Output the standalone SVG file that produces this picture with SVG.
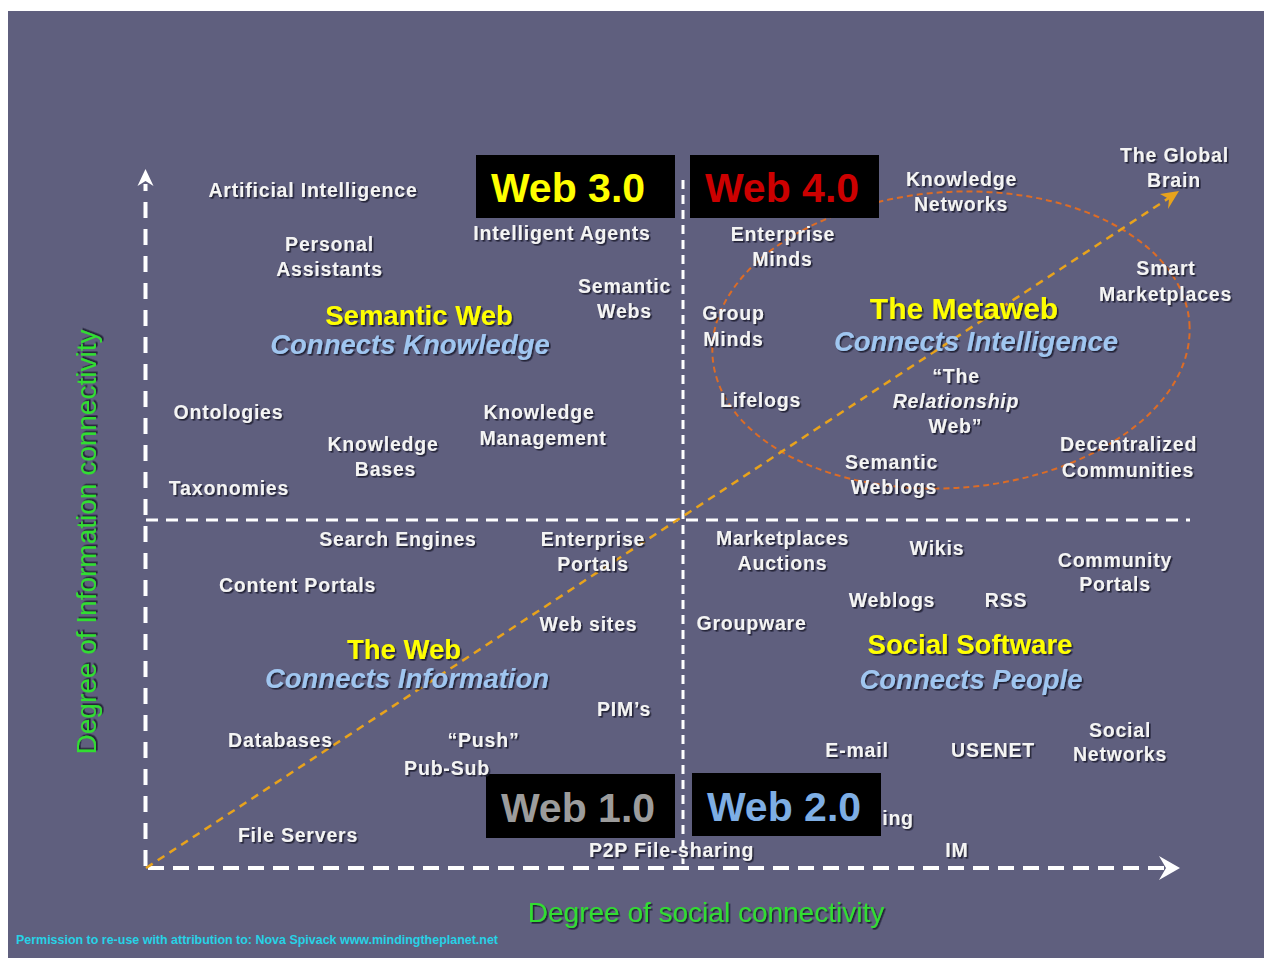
<svg xmlns="http://www.w3.org/2000/svg" width="1264" height="958" viewBox="0 0 1264 958">
<style>
.lbl{font-family:"Liberation Sans",Arial,sans-serif;font-weight:bold;font-size:19.5px;fill:#f4f4f4;text-anchor:middle;letter-spacing:0.8px;filter:url(#sh)}
.it{font-style:italic}
.ttl{font-family:"Liberation Sans",Arial,sans-serif;font-weight:bold;font-size:27.5px;fill:#ffff00;text-anchor:middle;filter:url(#sh)}
.sub{font-family:"Liberation Sans",Arial,sans-serif;font-weight:bold;font-style:italic;font-size:27.5px;fill:#a0c6f0;text-anchor:middle;filter:url(#sh)}
.box{fill:#000}
.web{font-family:"Liberation Sans",Arial,sans-serif;font-weight:bold;font-size:41px;text-anchor:middle}
.axl{font-family:"Liberation Sans",Arial,sans-serif;font-size:28px;fill:#33dd33;text-anchor:middle;filter:url(#sh)}
.ax{stroke:#fff;stroke-width:4;fill:none}
</style>
<defs>
<filter id="sh" x="-10%" y="-30%" width="120%" height="160%">
<feDropShadow dx="1.6" dy="1.6" stdDeviation="0.5" flood-color="#15152a" flood-opacity="0.85"/>
</filter>
</defs>
<rect x="0" y="0" width="1264" height="958" fill="#ffffff"/>
<rect x="8" y="11" width="1256" height="947" fill="#5f5f7e"/>

<g id="connectors">
<line class="ax" x1="145.5" y1="866" x2="145.5" y2="184" stroke-dasharray="16 11"/>
<path d="M145.5,169 L153.5,186 L145.5,181 L137.5,186 Z" fill="#fff"/>
<line class="ax" x1="148" y1="868" x2="1166" y2="868" stroke-dasharray="16 9"/>
<path d="M1180,868 L1159,880 L1166,868 L1159,856 Z" fill="#fff"/>
<line x1="146" y1="520" x2="1190" y2="520" stroke="#fff" stroke-width="3" stroke-dasharray="12 8"/>
<line x1="683" y1="180" x2="683" y2="866" stroke="#fff" stroke-width="3" stroke-dasharray="9 6"/>
<ellipse cx="951" cy="340" rx="239" ry="148" transform="rotate(-4 951 340)" fill="none" stroke="#dc6c26" stroke-width="2" stroke-dasharray="6 4"/>
<line x1="146" y1="868" x2="1172" y2="196" stroke="#e8a31c" stroke-width="2.5" stroke-dasharray="8 6"/>
<path d="M1179,191 L1168,209 L1169,199 L1160,194 Z" fill="#e8a31c"/>
</g>

<g id="web30"><rect class="box" x="476" y="155" width="199" height="63"/><text class="web" x="568" y="202" fill="#ffff00">Web 3.0</text></g>
<g id="web40"><rect class="box" x="690" y="155" width="189" height="63"/><text class="web" x="782" y="202" fill="#cc0000">Web 4.0</text></g>
<g id="ing"><text class="lbl" x="898" y="825">ing</text></g>
<g id="web10"><rect class="box" x="486" y="774" width="189" height="64"/><text class="web" x="578" y="822" fill="#9c9c9c">Web 1.0</text></g>
<g id="web20"><rect class="box" x="692" y="773" width="189" height="63"/><text class="web" x="784" y="821" fill="#7eaee4">Web 2.0</text></g>

<g id="semweb"><text class="ttl" x="419" y="325">Semantic Web</text><text class="sub" x="410" y="354">Connects Knowledge</text></g>
<g id="theweb"><text class="ttl" x="404" y="659">The Web</text><text class="sub" x="407" y="688">Connects Information</text></g>
<g id="metaweb"><text class="ttl" x="964" y="319" style="font-size:30px">The Metaweb</text><text class="sub" x="976" y="351">Connects Intelligence</text></g>
<g id="social"><text class="ttl" x="970" y="654">Social Software</text><text class="sub" x="971" y="689">Connects People</text></g>

<g id="ai"><text class="lbl" x="313" y="197">Artificial Intelligence</text></g>
<g id="pa"><text class="lbl" x="329.5" y="251">Personal</text><text class="lbl" x="329.5" y="276">Assistants</text></g>
<g id="agents"><text class="lbl" x="562" y="240">Intelligent Agents</text></g>
<g id="semwebs"><text class="lbl" x="624.5" y="293">Semantic</text><text class="lbl" x="624.5" y="318">Webs</text></g>
<g id="ontologies"><text class="lbl" x="228.5" y="419">Ontologies</text></g>
<g id="kbases"><text class="lbl" x="383" y="451">Knowledge</text><text class="lbl" x="385.5" y="476">Bases</text></g>
<g id="kmgmt"><text class="lbl" x="539" y="419">Knowledge</text><text class="lbl" x="543" y="445">Management</text></g>
<g id="taxonomies"><text class="lbl" x="229" y="495">Taxonomies</text></g>

<g id="search"><text class="lbl" x="398" y="546">Search Engines</text></g>
<g id="eportals"><text class="lbl" x="593" y="546">Enterprise</text><text class="lbl" x="593" y="571">Portals</text></g>
<g id="cportals"><text class="lbl" x="297.5" y="592">Content Portals</text></g>
<g id="websites"><text class="lbl" x="588.5" y="631">Web sites</text></g>
<g id="pims"><text class="lbl" x="624" y="716">PIM’s</text></g>
<g id="databases"><text class="lbl" x="280.5" y="747">Databases</text></g>
<g id="push"><text class="lbl" x="483.5" y="747">“Push”</text></g>
<g id="pubsub"><text class="lbl" x="447" y="775">Pub-Sub</text></g>
<g id="fileservers"><text class="lbl" x="298" y="842">File Servers</text></g>
<g id="p2p"><text class="lbl" x="671.5" y="857">P2P File-sharing</text></g>

<g id="knets"><text class="lbl" x="961.5" y="186">Knowledge</text><text class="lbl" x="961" y="211">Networks</text></g>
<g id="globalbrain"><text class="lbl" x="1174.5" y="162">The Global</text><text class="lbl" x="1174" y="187">Brain</text></g>
<g id="eminds"><text class="lbl" x="783" y="241">Enterprise</text><text class="lbl" x="782.5" y="266">Minds</text></g>
<g id="smart"><text class="lbl" x="1166" y="275">Smart</text><text class="lbl" x="1165.5" y="301">Marketplaces</text></g>
<g id="gminds"><text class="lbl" x="733.5" y="320">Group</text><text class="lbl" x="733.5" y="346">Minds</text></g>
<g id="lifelogs"><text class="lbl" x="760.5" y="407">Lifelogs</text></g>
<g id="relweb"><text class="lbl" x="956" y="383">“The</text><text class="lbl it" x="956" y="408">Relationship</text><text class="lbl" x="955.5" y="433">Web”</text></g>
<g id="decent"><text class="lbl" x="1128.5" y="451">Decentralized</text><text class="lbl" x="1128" y="477">Communities</text></g>
<g id="semweblogs"><text class="lbl" x="891.5" y="469">Semantic</text><text class="lbl" x="894" y="494">Weblogs</text></g>

<g id="market"><text class="lbl" x="782.5" y="545">Marketplaces</text><text class="lbl" x="782.5" y="570">Auctions</text></g>
<g id="wikis"><text class="lbl" x="937" y="555">Wikis</text></g>
<g id="community"><text class="lbl" x="1115" y="567">Community</text><text class="lbl" x="1115" y="591">Portals</text></g>
<g id="weblogs"><text class="lbl" x="892" y="607">Weblogs</text></g>
<g id="rss"><text class="lbl" x="1006" y="607">RSS</text></g>
<g id="groupware"><text class="lbl" x="751.5" y="630">Groupware</text></g>
<g id="email"><text class="lbl" x="857" y="757">E-mail</text></g>
<g id="usenet"><text class="lbl" x="993" y="757">USENET</text></g>
<g id="socnets"><text class="lbl" x="1120" y="737">Social</text><text class="lbl" x="1120" y="761">Networks</text></g>
<g id="im"><text class="lbl" x="957" y="857">IM</text></g>

<g id="yaxis-label"><text class="axl" transform="translate(96 542) rotate(-90)">Degree of Information connectivity</text></g>
<g id="xaxis-label"><text class="axl" x="706" y="922">Degree of social connectivity</text></g>
<g id="credit"><text x="16" y="944" font-family="Liberation Sans, Arial, sans-serif" font-weight="bold" font-size="13.5" fill="#27d2e6" textLength="482" lengthAdjust="spacingAndGlyphs">Permission to re-use with attribution to: Nova Spivack www.mindingtheplanet.net</text></g>
</svg>
